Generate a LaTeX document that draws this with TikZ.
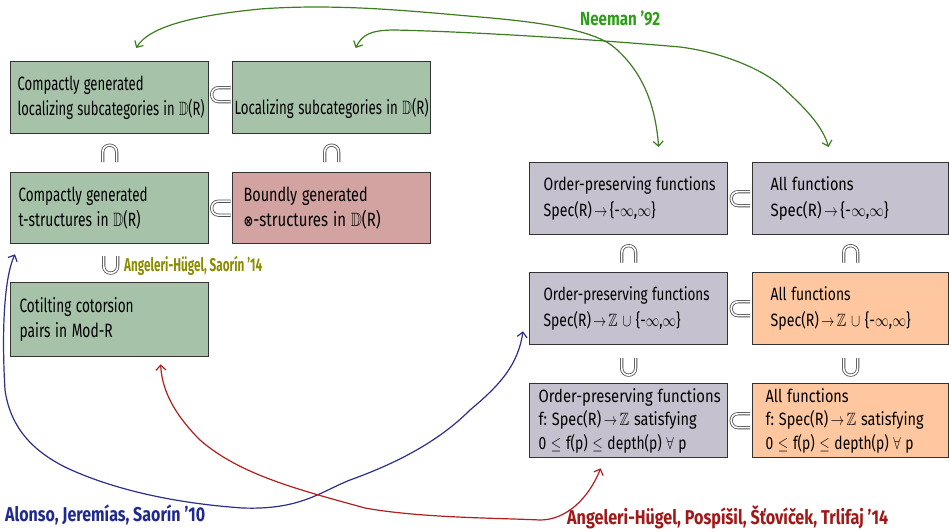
\documentclass[tikz,border=0pt]{standalone}
\usepackage{amsmath,amssymb}
\usepackage{fontspec}
\setmainfont{Fira Sans}
\newfontfamily\symbfont{DejaVu Sans}
\usetikzlibrary{arrows.meta,calc}
\definecolor{boxline}{HTML}{333333}
\definecolor{greenfill}{HTML}{A6C3AA}
\definecolor{pinkfill}{HTML}{D3A3A2}
\definecolor{greyfill}{HTML}{C5C1CF}
\definecolor{orangefill}{HTML}{FFC7A0}
\definecolor{symline}{HTML}{505050}
\definecolor{neemancurve}{HTML}{3E7C22}
\definecolor{neemantext}{HTML}{2E9E1A}
\definecolor{olivetext}{HTML}{8C8C00}
\definecolor{navy}{HTML}{1F2A8C}
\definecolor{navycurve}{HTML}{2B2E8A}
\definecolor{darkred}{HTML}{A01818}
\definecolor{redcurve}{HTML}{B01E1E}
\frenchspacing
\newcommand{\fitw}[2]{\resizebox{#1pt}{\height}{#2}}
\newcommand{\boxfont}{\fontsize{17.8}{26}\selectfont}
\newcommand{\leftboxfont}{\fontsize{19.3}{25.5}\selectfont}
\newcommand{\sarr}{\,\scalebox{0.95}[1]{$\to$}\,}
\newcommand{\otim}{{\symbfont\bfseries\fontsize{15}{15}\selectfont ⊗}}
\tikzset{
  box/.style={draw=boxline, line width=1.3pt, anchor=north west, align=left,
    inner ysep=0pt, font=\boxfont},
  lbox/.style={box, font=\leftboxfont},
  relsym/.style={draw=symline, double=white, double distance=1.6pt, line width=0.8pt},
  subsetpic/.pic={\draw[relsym] (10,-7) -- (-2,-7) .. controls (-11.3,-7) and (-11.3,7) .. (-2,7) -- (10,7);},
  cappic/.pic={\draw[relsym] (-7,9) -- (-7,-1) .. controls (-7,-10.3) and (7,-10.3) .. (7,-1) -- (7,9);},
  cuppic/.pic={\draw[relsym] (-7,-9) -- (-7,1) .. controls (-7,10.3) and (7,10.3) .. (7,1) -- (7,-9);},
  conn/.style={line width=1.2pt, {Straight Barb[length=5pt,width=10pt]}-{Straight Barb[length=5pt,width=10pt]}},
  lab/.style={inner sep=0pt},
}
\begin{document}
\begin{tikzpicture}[x=1pt,y=-1pt]
\useasboundingbox (0,0) rectangle (949,531);
% left column
\node[lbox, fill=greenfill, minimum width=198pt, minimum height=72pt, inner xsep=7pt, text width=184pt] (A) at (10,61)
  {\fitw{126}{Compactly generated}\\\fitw{187}{localizing subcategories in $\mathbb{D}$(R)}};
\node[lbox, fill=greenfill, minimum width=198pt, minimum height=72pt, inner xsep=2pt, text width=194pt] (B) at (232,61)
  {\raisebox{-11pt}[\height][\depth]{\fitw{194}{Localizing subcategories in $\mathbb{D}$(R)}}};
\node[lbox, fill=greenfill, minimum width=198pt, minimum height=71pt, inner xsep=8pt, text width=182pt] (C) at (10,172)
  {\fitw{129}{Compactly generated}\\\fitw{122}{t-structures in $\mathbb{D}$(R)}};
\node[lbox, fill=pinkfill, minimum width=198pt, minimum height=71pt, inner xsep=11pt, text width=176pt] (D) at (232,172)
  {\fitw{124}{Boundly generated}\\\fitw{137}{\otim-structures in $\mathbb{D}$(R)}};
\node[lbox, fill=greenfill, minimum width=198pt, minimum height=74pt, inner xsep=9pt, text width=180pt] (E) at (10,282)
  {\fitw{114}{Cotilting cotorsion}\\\fitw{93}{pairs in Mod-R}};
% right column
\node[box, fill=greyfill, minimum width=198pt, minimum height=72pt, inner xsep=14pt, text width=170pt] (F) at (529,162)
  {\fitw{172}{Order-preserving functions}\\\fitw{112}{Spec(R)\sarr\{-$\infty$,$\infty$\}}};
\node[box, fill=greyfill, minimum width=196pt, minimum height=72pt, inner xsep=18pt, text width=160pt] (G) at (752,162)
  {\fitw{83}{All functions}\\\fitw{118}{Spec(R)\sarr\{-$\infty$,$\infty$\}}};
\node[box, fill=greyfill, minimum width=198pt, minimum height=72pt, inner xsep=14pt, text width=170pt] (H) at (529,272)
  {\fitw{166}{Order-preserving functions}\\\fitw{137}{Spec(R)\sarr$\mathbb{Z}$ $\cup$ \{-$\infty$,$\infty$\}}};
\node[box, fill=orangefill, minimum width=196pt, minimum height=72pt, inner xsep=18pt, text width=160pt] (I) at (752,272)
  {\fitw{80}{All functions}\\\fitw{140}{Spec(R)\sarr$\mathbb{Z}$ $\cup$ \{-$\infty$,$\infty$\}}};
\node[box, fill=greyfill, minimum width=198pt, minimum height=74pt, inner xsep=9pt, text width=180pt, font=\fontsize{17.8}{23.5}\selectfont] (J) at (529,383)
  {\fitw{182}{Order-preserving functions}\\\fitw{158}{f: Spec(R)\sarr$\mathbb{Z}$ satisfying}\\\fitw{148}{0 $\le$ f(p) $\le$ depth(p) $\forall$ p}};
\node[box, fill=orangefill, minimum width=196pt, minimum height=74pt, inner xsep=13pt, text width=170pt, font=\fontsize{17.8}{23.5}\selectfont] (K) at (752,383)
  {\fitw{83}{All functions}\\\fitw{158}{f: Spec(R)\sarr$\mathbb{Z}$ satisfying}\\\fitw{148}{0 $\le$ f(p) $\le$ depth(p) $\forall$ p}};
% relation symbols
\pic at ($(A.east)!0.5!(B.west)+(0,-3)$) {subsetpic};
\pic at ($(C.east)!0.5!(D.west)$) {subsetpic};
\pic at ($(A.south)!0.5!(C.north)$) {cappic};
\pic at ($(B.south)!0.5!(D.north)$) {cappic};
\pic at ($(C.south)!0.5!(E.north)+(1,2)$) {cuppic};
\pic at ($(F.east)!0.5!(G.west)$) {subsetpic};
\pic at ($(H.east)!0.5!(I.west)$) {subsetpic};
\pic at ($(J.east)!0.5!(K.west)$) {subsetpic};
\pic at ($(F.south)!0.5!(H.north)$) {cappic};
\pic at ($(G.south)!0.5!(I.north)$) {cappic};
\pic at ($(H.south)!0.5!(J.north)+(0,3)$) {cuppic};
\pic at ($(I.south)!0.5!(K.north)+(0,3)$) {cuppic};
% labels
\node[lab, text=neemantext, anchor=base west, font=\fontsize{19}{22}\selectfont\bfseries] (neeman) at (580,25) {\fitw{80}{Neeman '92}};
\node[lab, text=olivetext, anchor=base west, font=\fontsize{18.5}{20}\selectfont\bfseries] (ahs) at (124,271) {\fitw{138}{Angeleri-Hügel, Saorín '14}};
\node[lab, text=navy, anchor=base west, font=\fontsize{20}{22}\selectfont\bfseries] (ajs) at (5,521) {\fitw{200}{Alonso, Jeremías, Saorín '10}};
\node[lab, text=darkred, anchor=base west, font=\fontsize{20}{22}\selectfont\bfseries] (ahpst) at (567,524) {\fitw{321}{Angeleri-Hügel, Pospíšil, Šťovíček, Trlifaj '14}};
% connectors
\draw[conn, neemancurve] ($(A.north)+(26.5,-13)$) .. controls (150,25) and (200,15) .. (260,9)
  .. controls (340,3) and (420,12) .. (480,17) .. controls (540,22) and (595,30) .. (615,48)
  .. controls (640,70) and (655,100) .. ($(F.north)+(30,-15)$);
\draw[conn, neemancurve] ($(B.north)+(24,-13)$) .. controls (362,35) and (370,30) .. (395,30)
  .. controls (480,32) and (600,40) .. (680,47) .. controls (720,52) and (760,68) .. (780,85)
  .. controls (805,108) and (822,125) .. ($(G.north)+(-22,-15)$);
\draw[conn, navycurve] ($(C.south west)+(5,10)$) .. controls (3,280) and (2,340) .. (5,390)
  .. controls (10,425) and (30,450) .. (67,468) .. controls (110,488) and (170,503) .. (243,508)
  .. controls (300,510) and (320,492) .. (350,480) .. controls (400,462) and (440,440) .. (470,410)
  .. controls (500,385) and (518,365) .. ($(H.south west)+(-6,-14)$);
\draw[conn, redcurve] ($(E.south)+(51,7)$) .. controls (162,395) and (180,420) .. (200,440)
  .. controls (240,475) and (300,490) .. (365,508) .. controls (420,518) and (500,518) .. (540,520)
  .. controls (565,520) and (588,500) .. ($(J.south)+(-28,10)$);
\end{tikzpicture}
\end{document}
